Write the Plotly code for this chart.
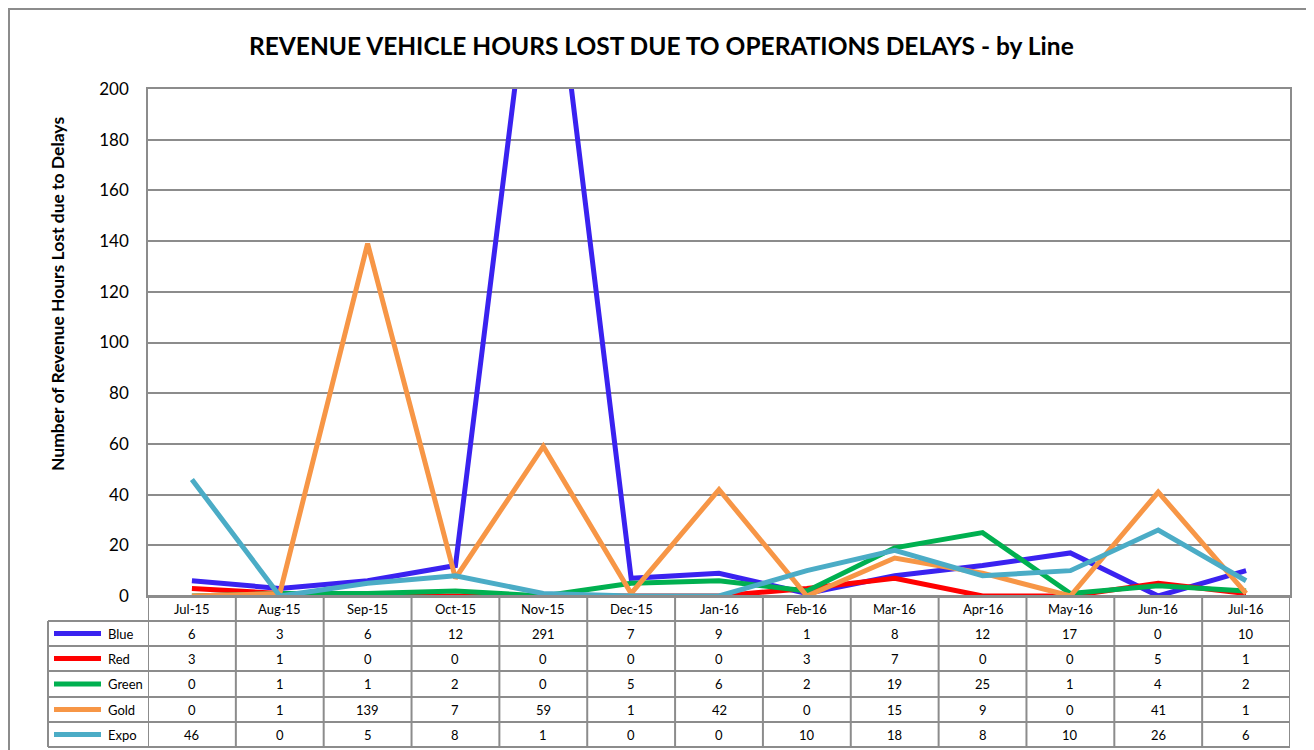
import plotly.graph_objects as go

months = ["Jul-15", "Aug-15", "Sep-15", "Oct-15", "Nov-15", "Dec-15", "Jan-16",
          "Feb-16", "Mar-16", "Apr-16", "May-16", "Jun-16", "Jul-16"]
series_names = ["Blue", "Red", "Green", "Gold", "Expo"]
blue = [6, 3, 6, 12, 291, 7, 9, 1, 8, 12, 17, 0, 10]
red = [3, 1, 0, 0, 0, 0, 0, 3, 7, 0, 0, 5, 1]
green = [0, 1, 1, 2, 0, 5, 6, 2, 19, 25, 1, 4, 2]
gold = [0, 1, 139, 7, 59, 1, 42, 0, 15, 9, 0, 41, 1]
expo = [46, 0, 5, 8, 1, 0, 0, 10, 18, 8, 10, 26, 6]
series_values = [blue, red, green, gold, expo]
colors = ["#3A22F0", "#FF0000", "#00B050", "#F79646", "#4BACC6"]
y_ticks = [0, 20, 40, 60, 80, 100, 120, 140, 160, 180, 200]

# page body has an 8px margin: figure is offset by (8, 8) in the window
OFF = 8
W, H = 1314 - OFF, 750 - OFF
# screen-pixel positions of the plot area
SL, SR, ST, SB = 148, 1290, 89, 596
L, R, T, B = SL - OFF, SR - OFF, ST - OFF, SB - OFF
FONT = "Lato"
GRID = "#8C8C8C"


def xp(px):
    """screen pixel x -> paper"""
    return (px - SL) / (SR - SL)


def yp(py):
    """screen pixel y -> paper"""
    return (SB - py) / (SB - ST)


fig = go.Figure()
for name, vals, col in zip(series_names, series_values, colors):
    fig.add_trace(go.Scatter(x=months, y=vals, name=name, mode="lines",
                             line=dict(color=col, width=5), showlegend=False))

shapes = []
annotations = []

# outer chart border
shapes.append(dict(type="rect", xref="paper", yref="paper",
                   x0=xp(9), x1=xp(1340), y0=yp(780), y1=yp(9),
                   line=dict(color="#8C8C8C", width=2)))

# table rows (screen pixel positions)
row_edges = [596, 621, 646, 671, 697, 722, 747]
for i, ry in enumerate(row_edges):
    x0 = SL if i == 0 else 48
    shapes.append(dict(type="line", xref="paper", yref="paper",
                       x0=xp(x0), x1=1, y0=yp(ry), y1=yp(ry),
                       line=dict(color=GRID, width=2)))
for k in range(len(months) + 1):
    shapes.append(dict(type="line", xref="x", yref="paper",
                       x0=k - 0.5, x1=k - 0.5, y0=yp(row_edges[0]), y1=yp(row_edges[-1]),
                       line=dict(color=GRID, width=2)))
shapes.append(dict(type="line", xref="paper", yref="paper",
                   x0=xp(48), x1=xp(48), y0=yp(row_edges[1]), y1=yp(row_edges[-1]),
                   line=dict(color=GRID, width=2)))

hy = (row_edges[0] + row_edges[1]) / 2
for m in months:
    annotations.append(dict(x=m, y=yp(hy), xref="x", yref="paper", text=m,
                            showarrow=False, font=dict(family=FONT, size=13, color="#000"),
                            xanchor="center", yanchor="middle"))

for r, (name, vals, col) in enumerate(zip(series_names, series_values, colors)):
    cy = (row_edges[r + 1] + row_edges[r + 2]) / 2
    shapes.append(dict(type="line", xref="paper", yref="paper",
                       x0=xp(54), x1=xp(101), y0=yp(cy), y1=yp(cy),
                       line=dict(color=col, width=5)))
    annotations.append(dict(x=xp(106), y=yp(cy), xref="paper", yref="paper", text=name,
                            showarrow=False, font=dict(family=FONT, size=13, color="#000"),
                            xanchor="left", yanchor="middle"))
    for m, v in zip(months, vals):
        annotations.append(dict(x=m, y=yp(cy), xref="x", yref="paper", text=str(v),
                                showarrow=False, font=dict(family=FONT, size=13, color="#000"),
                                xanchor="center", yanchor="middle"))

annotations.append(dict(x=xp(661), y=yp(45), xref="paper", yref="paper",
                        text="<b>REVENUE VEHICLE HOURS LOST DUE TO OPERATIONS DELAYS - by Line</b>",
                        showarrow=False, font=dict(family=FONT, size=24.5, color="#000"),
                        xanchor="center", yanchor="middle"))
annotations.append(dict(x=xp(57), y=yp(294), xref="paper", yref="paper",
                        text="<b>Number of Revenue Hours Lost due to Delays</b>",
                        showarrow=False, textangle=-90,
                        font=dict(family=FONT, size=17.5, color="#000"),
                        xanchor="center", yanchor="middle"))

fig.update_layout(
    width=W, height=H,
    margin=dict(l=L, r=W - R, t=T, b=H - B, pad=0),
    paper_bgcolor="white", plot_bgcolor="white",
    shapes=shapes, annotations=annotations,
    xaxis=dict(type="category", categoryorder="array", categoryarray=months,
               range=[-0.5, len(months) - 0.5], showticklabels=False, ticks="",
               showgrid=False, showline=True, linecolor=GRID, linewidth=1.5, mirror=True,
               zeroline=False, fixedrange=True),
    yaxis=dict(range=[0, 200], tickvals=y_ticks, ticktext=[str(v) for v in y_ticks],
               showgrid=True, gridcolor=GRID, gridwidth=1.5, ticks="",
               ticklabelstandoff=14,
               tickfont=dict(family=FONT, size=17, color="#000"),
               showline=True, linecolor=GRID, linewidth=1.5, mirror=True,
               zeroline=False, fixedrange=True),
    showlegend=False,
)

fig.write_html("out.html")
